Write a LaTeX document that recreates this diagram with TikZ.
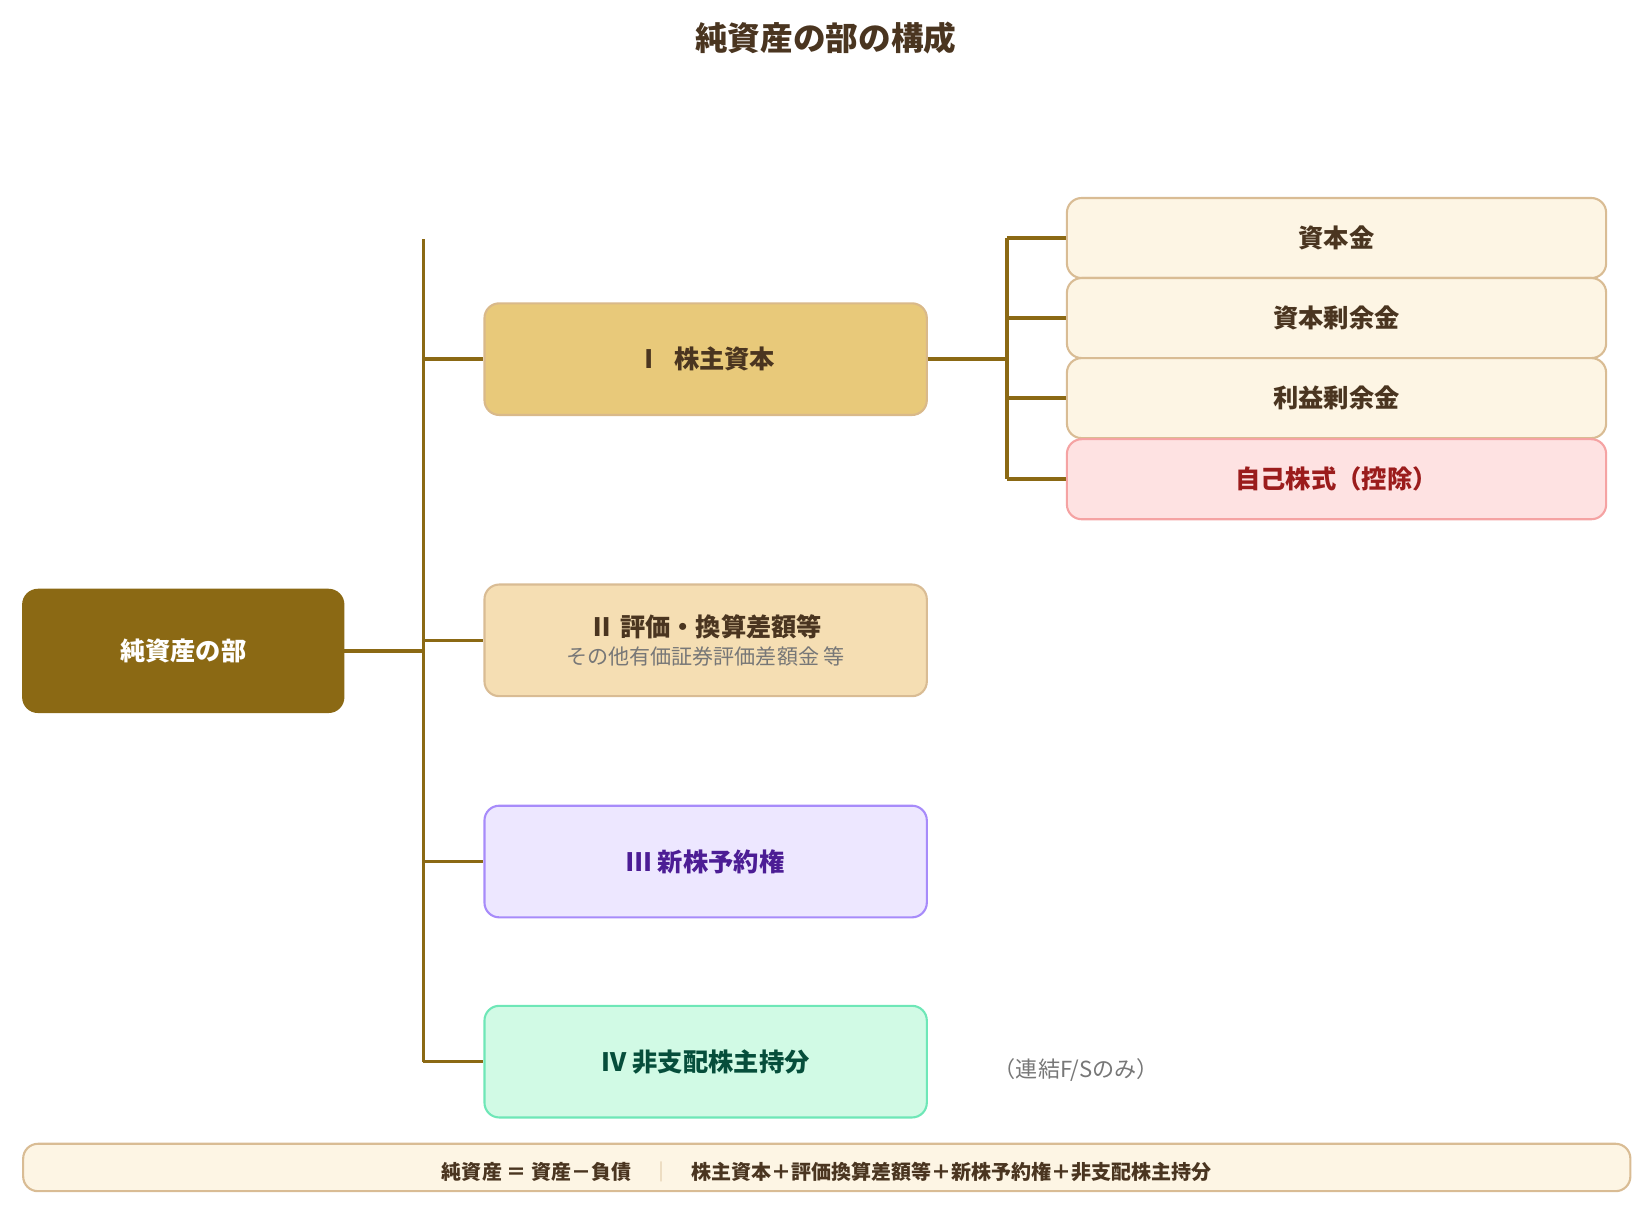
\documentclass[tikz,border=0pt]{standalone}
\usepackage{fontspec}
\setmainfont{Noto Sans CJK JP}
\definecolor{tx}{HTML}{4A3520}
\definecolor{cr}{HTML}{FDF5E4}
\definecolor{crb}{HTML}{D9BC94}
\definecolor{ln}{HTML}{8B6914}
\definecolor{f1}{HTML}{E8C97A}
\definecolor{b1}{HTML}{D9B98A}
\definecolor{f2}{HTML}{F5DEB3}
\definecolor{f3}{HTML}{EDE7FF}
\definecolor{b3}{HTML}{A78BFA}
\definecolor{t3}{HTML}{4C1D95}
\definecolor{f4}{HTML}{D1FAE5}
\definecolor{b4}{HTML}{6EE7B7}
\definecolor{t4}{HTML}{064E3B}
\definecolor{f5}{HTML}{FEE2E2}
\definecolor{b5}{HTML}{F5A3A3}
\definecolor{t5}{HTML}{9B1C1C}
\definecolor{gr}{HTML}{777777}
\begin{document}
\begin{tikzpicture}[x=1pt,y=-1pt,
 box/.style={draw,line width=2pt,rounded corners=14pt,inner sep=0pt,font=\bfseries\fontsize{24}{28}\selectfont,text=tx},
 cream/.style={box,fill=cr,draw=crb,minimum width=512pt,minimum height=76pt},
 mid/.style={box,minimum width=420pt,minimum height=106pt},
 ln/.style={draw=ln,line width=3.5pt}]
\useasboundingbox (0,0) rectangle (1560,1145);
\node[font=\bfseries\fontsize{31}{34}\selectfont,text=tx] (title) at (784,36) {純資産の部の構成};
\node[box,fill=ln,draw=ln,text=white,minimum width=304pt,minimum height=116pt] (root) at (174,618) {純資産の部};
\node[mid,fill=f1,draw=b1] (m1) at (670,341) {Ⅰ\hspace{0.5em}株主資本};
\node[mid,fill=f2,draw=crb,align=center] (m2) at (670,608) {Ⅱ 評価・換算差額等\\[-2pt]{\mdseries\fontsize{20}{24}\selectfont\color{gr}その他有価証券評価差額金 等}};
\node[mid,fill=f3,draw=b3,text=t3] (m3) at (670,818) {Ⅲ 新株予約権};
\node[mid,fill=f4,draw=b4,text=t4] (m4) at (670,1008) {Ⅳ 非支配株主持分};
\node[cream] (r1) at (1269,226) {資本金};
\node[cream] (r2) at (1269,302) {資本剰余金};
\node[cream] (r3) at (1269,378) {利益剰余金};
\node[cream,fill=f5,draw=b5,text=t5] (r4) at (1269,455) {自己株式（控除）};
\node[font=\fontsize{21}{24}\selectfont,text=gr] (note) at (1022,1016) {（連結F/Sのみ）};
\node[cream,minimum width=1526pt,minimum height=45pt] (bar) at (785,1108.5) {};
\node[font=\bfseries\fontsize{19}{22}\selectfont,text=tx] (bt) at (785,1113) {純資産 ＝ 資産－負債\hspace{1em}{\mdseries\color{crb}｜}\hspace{1em}株主資本＋評価換算差額等＋新株予約権＋非支配株主持分};
\coordinate (tTop) at (402,227);
\coordinate (tBot) at (402,1008);
\coordinate (t0) at (402,618);
\coordinate (sTop) at (956,226);
\coordinate (sBot) at (956,455);
\coordinate (s0) at (956,341);
\draw[ln] (tTop) -- (tBot);
\draw[ln] (root.east) -- (t0);
\draw[ln] (402,341) -- (m1.west);
\draw[ln] (402,608) -- (m2.west);
\draw[ln] (402,818) -- (m3.west);
\draw[ln] (tBot) -- (m4.west);
\draw[ln] (m1.east) -- (s0);
\draw[ln] (sTop) -- (sBot);
\draw[ln] (sTop) -- (r1.west);
\draw[ln] (956,302) -- (r2.west);
\draw[ln] (956,378) -- (r3.west);
\draw[ln] (sBot) -- (r4.west);
\end{tikzpicture}
\end{document}
